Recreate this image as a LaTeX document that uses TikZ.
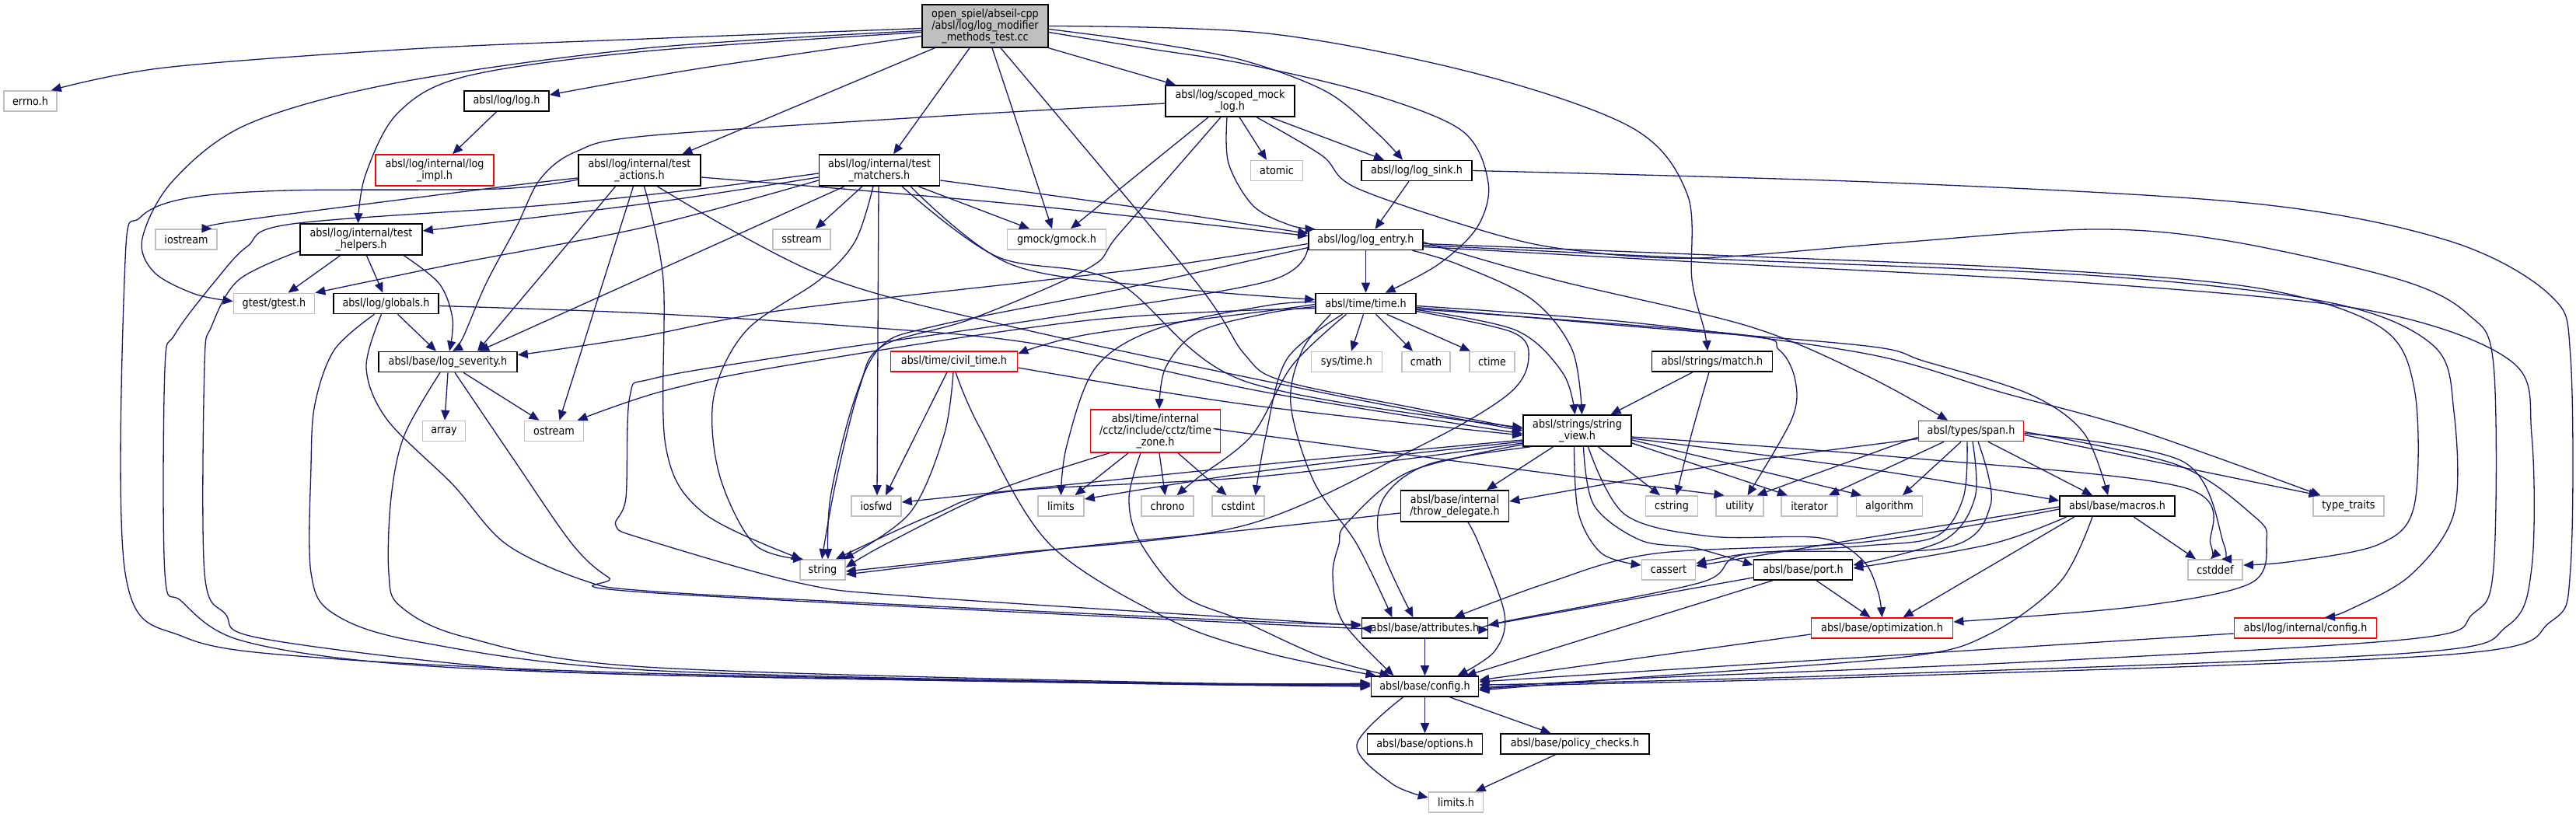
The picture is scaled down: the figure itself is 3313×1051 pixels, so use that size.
\documentclass[tikz,border=0pt]{standalone}
\usepackage{fontspec}
\setmainfont{DejaVu Sans}[FakeStretch=0.88]
\usetikzlibrary{arrows.meta}
\definecolor{edgec}{HTML}{191970}
\definecolor{grayb}{HTML}{BFBFBF}
\definecolor{mainfill}{HTML}{BFBFBF}
\definecolor{truncred}{HTML}{FF0000}
\newcommand\nodefont{\fontsize{14.5}{15}\selectfont}
\begin{document}
\begin{tikzpicture}[x=1pt,y=-1pt,
  nd/.style={draw=black, line width=1.6pt, fill=white, minimum height=26pt, inner sep=0pt, align=center, font=\nodefont},
  sysn/.style={nd, draw=grayb},
  trn/.style={nd, draw=truncred},
  dep/.style={draw=edgec, line width=1.3pt, -{Triangle[length=13pt,width=11pt]}},
  sm/.style={smooth, tension=0.55}]
\fill[white] (0,0) rectangle (3313,1051);
\useasboundingbox (0,0) rectangle (3313,1051);

% nodes
\node[nd, fill=mainfill, minimum width=162pt, minimum height=55pt] (main) at (1267,33.5) {open\_spiel/abseil-cpp\\/absl/log/log\_modifier\\\_methods\_test.cc};
\node[sysn, minimum width=68pt] (errno) at (39,130) {errno.h};
\node[nd, minimum width=109pt] (logh) at (651.5,130) {absl/log/log.h};
\node[nd, minimum width=166pt, minimum height=40pt] (smock) at (1582,130) {absl/log/scoped\_mock\\\_log.h};
\node[trn, minimum width=152pt, minimum height=40pt] (impl) at (559,219) {absl/log/internal/log\\\_impl.h};
\node[nd, minimum width=157pt, minimum height=40pt] (tact) at (822.5,219) {absl/log/internal/test\\\_actions.h};
\node[nd, minimum width=155pt, minimum height=40pt] (tmat) at (1131,219) {absl/log/internal/test\\\_matchers.h};
\node[sysn, minimum width=67pt] (atomic) at (1642,219.5) {atomic};
\node[nd, minimum width=142pt] (sink) at (1822,219.5) {absl/log/log\_sink.h};
\node[sysn, minimum width=79pt] (iostream) at (239.5,308) {iostream};
\node[nd, minimum width=157pt, minimum height=40pt] (thelp) at (464.5,308) {absl/log/internal/test\\\_helpers.h};
\node[sysn, minimum width=74pt] (sstream) at (1031,308) {sstream};
\node[sysn, minimum width=127pt] (gmock) at (1359,308) {gmock/gmock.h};
\node[nd, minimum width=147pt] (entry) at (1756.5,308.5) {absl/log/log\_entry.h};
\node[sysn, minimum width=104pt] (gtest) at (352.5,390.5) {gtest/gtest.h};
\node[nd, minimum width=135pt] (globals) at (496.5,390.5) {absl/log/globals.h};
\node[nd, minimum width=129pt] (timeh) at (1756.5,390.5) {absl/time/time.h};
\node[nd, minimum width=178pt] (sev) at (576,465.5) {absl/base/log\_severity.h};
\node[trn, minimum width=163pt] (civil) at (1227,465) {absl/time/civil\_time.h};
\node[sysn, minimum width=91pt] (systime) at (1732,465.5) {sys/time.h};
\node[sysn, minimum width=62pt] (cmath) at (1834,465.5) {cmath};
\node[sysn, minimum width=58pt] (ctime) at (1919,465.5) {ctime};
\node[nd, minimum width=155pt] (match) at (2202,465) {absl/strings/match.h};
\node[sysn, minimum width=55pt] (array) at (571,554.5) {array};
\node[sysn, minimum width=76pt] (ostream) at (712.5,554.5) {ostream};
\node[trn, minimum width=167pt, minimum height=55pt] (tz) at (1486,554.5) {absl/time/internal\\/cctz/include/cctz/time\\\_zone.h};
\node[nd, minimum width=139pt, minimum height=40pt] (sv) at (2028.5,554) {absl/strings/string\\\_view.h};
\node[trn, minimum width=135pt] (span) at (2535,554.5) {absl/types/span.h};
\node[sysn, minimum width=64pt] (iosfwd) at (1127,651) {iosfwd};
\node[sysn, minimum width=59pt] (limits) at (1364.5,651) {limits};
\node[sysn, minimum width=67pt] (chrono) at (1501.5,651) {chrono};
\node[sysn, minimum width=67pt] (cstdint) at (1592.5,651) {cstdint};
\node[nd, minimum width=139pt, minimum height=40pt] (thrw) at (1871,651) {absl/base/internal\\/throw\_delegate.h};
\node[sysn, minimum width=67pt] (cstring) at (2150,651) {cstring};
\node[sysn, minimum width=61pt] (utility) at (2237.5,651) {utility};
\node[sysn, minimum width=71.5pt] (iterator) at (2327,651) {iterator};
\node[sysn, minimum width=85pt] (algorithm) at (2430,651) {algorithm};
\node[nd, minimum width=148pt] (macros) at (2723,651) {absl/base/macros.h};
\node[sysn, minimum width=91.5pt] (ttraits) at (3020.5,651) {type\_traits};
\node[sysn, minimum width=58pt] (string) at (1058,733) {string};
\node[sysn, minimum width=69pt] (cassert) at (2146,733) {cassert};
\node[nd, minimum width=127pt] (port) at (2319,733) {absl/base/port.h};
\node[sysn, minimum width=70.5pt] (cstddef) at (2849,733) {cstddef};
\node[nd, minimum width=162pt] (attr) at (1832.5,808) {absl/base/attributes.h};
\node[trn, minimum width=182pt] (optim) at (2420.5,808) {absl/base/optimization.h};
\node[trn, minimum width=183pt] (lconfig) at (2965,808) {absl/log/internal/config.h};
\node[nd, minimum width=138pt] (config) at (1832.5,883) {absl/base/config.h};
\node[nd, minimum width=148pt] (options) at (1832.5,957) {absl/base/options.h};
\node[nd, minimum width=191pt] (policy) at (2025.5,957) {absl/base/policy\_checks.h};
\node[sysn, minimum width=70pt] (limitsh) at (1872.5,1032) {limits.h};

% main
\draw[dep] plot[sm] coordinates {([yshift=-3pt]main.west) (830,50) (529,63) (212,87) ([xshift=-8pt]errno.north east)};
\draw[dep] plot[sm] coordinates {([yshift=-6pt]main.west) (830,62) (508,107) (318,160) (222,233) (183,307) (198,350) (250,378) ([yshift=3pt]gtest.west)};
\draw[dep] plot[sm] coordinates {([yshift=-8pt]main.west) (830,66) (600,98) (512,145) (470,225) ([xshift=-4pt]thelp.north)};
\draw[dep] plot[sm] coordinates {([yshift=-13pt]main.west) (900,88) ([yshift=8pt]logh.east)};
\draw[dep] ([xshift=-65pt]main.south) -- ([xshift=55pt]tact.north);
\draw[dep] ([xshift=-20pt]main.south) -- ([xshift=18pt]tmat.north);
\draw[dep] ([xshift=9pt]main.south) -- ([xshift=-6pt]gmock.north);
\draw[dep] plot[sm] coordinates {([xshift=20pt]main.south) (1536,360) (1600,455) (1650,490) (1820,525) ([yshift=2pt]sv.west)};
\draw[dep] (main.south east) -- ([xshift=-70pt]smock.north);
\draw[dep] plot[sm] coordinates {([yshift=-4pt]main.east) (1480,55) (1600,78) (1706,118) (1770,170) ([xshift=-18pt]sink.north)};
\draw[dep] plot[sm] coordinates {([yshift=-8pt]main.east) (1480,63) (1600,82) (1760,120) (1880,168) (1914,235) (1900,292) (1850,340) ([xshift=25pt]timeh.north)};
\draw[dep] plot[sm] coordinates {(main.east) (1630,43) (1900,95) (2100,165) (2170,250) (2176,360) (2192,425) ([xshift=-6pt]match.north)};
\draw[dep] ([xshift=-13pt]logh.south) -- ([xshift=23pt]impl.north);

% scoped_mock_log
\draw[dep] plot[sm] coordinates {([yshift=-3pt]smock.west) (1200,150) (830,175) (741,195) (695,230) (665,290) (625,365) (595,435) ([xshift=6pt]sev.north)};
\draw[dep] ([xshift=-28pt]smock.south) -- ([xshift=18pt]gmock.north);
\draw[dep] plot[sm] coordinates {([xshift=-12pt]smock.south) (1440,300) (1400,345) (1250,410) (1135,445) (1105,500) (1075,620) ([xshift=-1pt]string.north)};
\draw[dep] ([xshift=12pt]smock.south) -- ([xshift=-13pt]atomic.north);
\draw[dep] ([xshift=52pt]smock.south) -- ([xshift=-42pt]sink.north);
\draw[dep] plot[sm] coordinates {([xshift=-4pt]smock.south) (1580,210) (1612,265) (1660,290) ([xshift=-65pt]entry.north)};
\draw[dep] plot[sm] coordinates {([xshift=34pt]smock.south) (1700,200) (1745,242) (1918,300) (2024,322) (2182,332) (2430,313) (2691,295) (2866,310) (3087,360) (3175,405) (3207,470) (3207,730) (3180,790) (3100,822) (2600,852) (2100,873) ([yshift=-2pt]config.east)};

% log_sink
\draw[dep] ([xshift=-10pt]sink.south) -- ([xshift=12pt]entry.north);
\draw[dep] plot[sm] coordinates {(sink.east) (2430,235) (2900,262) (3150,310) (3280,380) (3306,460) (3306,730) (3280,800) (3150,842) (2400,871) (2000,881) ([yshift=-4pt]config.east)};

% log_entry
\draw[dep] (entry.south) -- (timeh.north);
\draw[dep] plot[sm] coordinates {([xshift=60pt]entry.south) (1875,340) (1970,385) (2022,450) ([xshift=6pt]sv.north)};
\draw[dep] plot[sm] coordinates {([yshift=-3pt]entry.east) (2000,360) (2250,420) (2400,483) ([xshift=-30pt]span.north)};
\draw[dep] plot[sm] coordinates {([yshift=-5pt]entry.east) (2200,328) (2600,345) (2900,370) (3060,420) (3105,500) (3105,650) (3060,700) (2950,722) ([yshift=6pt]cstddef.east)};
\draw[dep] plot[sm] coordinates {([yshift=-7pt]entry.east) (2200,333) (2700,355) (3000,390) (3130,445) (3156,530) (3156,660) (3100,740) (3020,785) ([xshift=25pt]lconfig.north)};
\draw[dep] plot[sm] coordinates {([yshift=-9pt]entry.east) (2200,338) (2700,365) (3050,400) (3230,465) (3256,560) (3256,730) (3225,805) (3100,840) (2400,868) (2000,879) ([yshift=2pt]config.east)};
\draw[dep] plot[sm] coordinates {([yshift=-5pt]entry.west) (1515,340) (1329,362) (1000,400) (830,432) (700,452) ([yshift=9pt]sev.east)};
\draw[dep] plot[sm] coordinates {([yshift=-10pt]entry.west) (1450,370) (1200,420) (1132,447) (1097,520) (1068,640) ([xshift=7pt]string.north)};
\draw[dep] plot[sm] coordinates {([yshift=-8pt]entry.west) (1630,362) (1329,412) (1012,458) (840,487) (810,510) (805,640) (792,676) (830,694) (1028,750) (1170,767) (1630,797) ([yshift=3pt]attr.west)};

% time.h
\draw[dep] ([xshift=-3pt]timeh.south) -- ([xshift=6pt]systime.north);
\draw[dep] ([xshift=13pt]timeh.south) -- ([xshift=-17pt]cmath.north);
\draw[dep] ([xshift=27pt]timeh.south) -- ([xshift=-28pt]ctime.north);
\draw[dep] plot[sm] coordinates {([yshift=-8pt]timeh.east) (1950,425) (2010,480) ([xshift=-3pt]sv.north)};
\draw[dep] plot[sm] coordinates {([yshift=-1pt]timeh.west) (1630,400) (1400,430) ([yshift=10pt]civil.east)};
\draw[dep] plot[sm] coordinates {([yshift=-4pt]timeh.west) (1630,403) (1541,427) (1499,473) ([xshift=5pt]tz.north)};
\draw[dep] plot[sm] coordinates {([yshift=2pt]timeh.west) (1630,393) (1488,423) (1409,473) (1372,573) (limits.north)};
\draw[dep] plot[sm] coordinates {([xshift=-25pt]timeh.south) (1662,470) (1610,560) (1540,615) ([xshift=12pt]chrono.north)};
\draw[dep] plot[sm] coordinates {([xshift=-30pt]timeh.south) (1655,462) (1628,560) ([xshift=22pt]cstdint.north)};
\draw[dep] plot[sm] coordinates {([yshift=-6pt]timeh.west) (1400,412) (1012,470) (853,503) ([xshift=30pt]ostream.north)};
\draw[dep] plot[sm] coordinates {([yshift=-10pt]timeh.east) (1944,427) (1966,460) (1940,507) (1828,573) (1600,676) (1300,712) ([yshift=-2pt]string.east)};
\draw[dep] plot[sm] coordinates {([yshift=-3pt]timeh.east) (2100,415) (2400,455) (2575,505) (2749,553) ([xshift=-36pt]ttraits.north)};
\draw[dep] plot[sm] coordinates {([yshift=-5pt]timeh.east) (2100,420) (2400,445) (2476,465) (2610,507) (2680,557) ([xshift=-12pt]macros.north)};
\draw[dep] plot[sm] coordinates {([yshift=-7pt]timeh.east) (2235,430) (2288,450) (2309,490) (2304,540) ([xshift=10pt]utility.north)};
\draw[dep] plot[sm] coordinates {([xshift=-45pt]timeh.south) (1675,450) (1660,520) (1690,620) (1745,700) ([xshift=-42pt]attr.north)};

% test_matchers
\draw[dep] ([xshift=-22pt]tmat.south) -- ([xshift=18pt]sstream.north);
\draw[dep] ([xshift=50pt]tmat.south) -- ([xshift=-35pt]gmock.north);
\draw[dep] ([xshift=-1pt]tmat.south) -- ([xshift=1pt]iosfwd.north);
\draw[dep] plot[sm] coordinates {([xshift=-8pt]tmat.south) (1100,310) (1054,360) (960,425) (918,510) (925,610) (970,700) ([xshift=-25pt]string.north)};
\draw[dep] plot[sm] coordinates {([yshift=-9pt]tmat.west) (830,262) ([yshift=11pt]thelp.east)};
\draw[dep] plot[sm] coordinates {([yshift=-13pt]tmat.west) (830,292) (582,340) (gtest.north east)};
\draw[dep] ([xshift=-45pt]tmat.south) -- ([xshift=40pt]sev.north);
\draw[dep] plot[sm] coordinates {([yshift=-4pt]tmat.west) (900,243) (700,264) (376,288) (318,317) (278,360) (225,430) (212,475) (212,737) (233,773) (307,823) (500,853) (830,868) (1500,880) ([yshift=1pt]config.west)};
\draw[dep] plot[sm] coordinates {([yshift=-13pt]tmat.east) (1450,265) ([yshift=8pt]entry.west)};
\draw[dep] plot[sm] coordinates {([xshift=29pt]tmat.south) (1282,330) (1435,362) (1600,490) ([yshift=4pt]sv.west)};
\draw[dep] plot[sm] coordinates {([xshift=40pt]tmat.south) (1300,340) (1500,370) ([yshift=5pt]timeh.west)};

% test_actions
\draw[dep] plot[sm] coordinates {([yshift=-10pt]tact.west) (640,241) (300,285) ([xshift=33pt]iostream.north)};
\draw[dep] plot[sm] coordinates {([yshift=-12pt]tact.west) (640,243) (370,245) (240,255) (180,280) (161,335) (161,737) (238,820) (423,847) (830,866) (1500,879) ([yshift=2pt]config.west)};
\draw[dep] ([xshift=-8pt]tact.south) -- ([xshift=7pt]ostream.north);
\draw[dep] plot[sm] coordinates {([xshift=6pt]tact.south) (853,360) (856,573) (905,660) ([xshift=-27pt]string.north)};
\draw[dep] plot[sm] coordinates {([xshift=-31pt]tact.south) (704,345) ([xshift=38pt]sev.north)};
\draw[dep] plot[sm] coordinates {([yshift=-9pt]tact.east) (1300,262) ([yshift=5pt]entry.west)};
\draw[dep] plot[sm] coordinates {([xshift=23pt]tact.south) (1054,353) (1300,420) (1700,505) (sv.west)};

% test_helpers
\draw[dep] ([xshift=-27pt]thelp.south) -- ([xshift=18pt]gtest.north);
\draw[dep] ([xshift=7pt]thelp.south) -- ([xshift=-4pt]globals.north);
\draw[dep] plot[sm] coordinates {([xshift=55pt]thelp.south) (565,365) (582,410) ([xshift=2pt]sev.north)};
\draw[dep] plot[sm] coordinates {([yshift=-15pt]thelp.west) (307,360) (272,420) (263,470) (263,737) (290,790) (330,820) (600,855) (830,868) (1500,880) (config.west)};

% globals
\draw[dep] ([xshift=15pt]globals.south) -- ([xshift=-15pt]sev.north);
\draw[dep] plot[sm] coordinates {([yshift=-3pt]globals.east) (830,403) (1100,420) (1330,442) (1630,505) ([yshift=-4pt]sv.west)};
\draw[dep] plot[sm] coordinates {([xshift=-6pt]globals.south) (471,473) (498,540) (582,623) (651,700) (752,747) (830,760) (1100,775) (1630,800) ([yshift=5pt]attr.west)};
\draw[dep] plot[sm] coordinates {([xshift=-15pt]globals.south) (430,450) (405,520) (400,600) (400,737) (430,790) (540,826) (830,862) (1500,879) ([yshift=3pt]config.west)};

% log_severity
\draw[dep] (sev.south) -- ([xshift=1pt]array.north);
\draw[dep] ([xshift=20pt]sev.south) -- ([xshift=-19pt]ostream.north);
\draw[dep] plot[sm] coordinates {([xshift=9pt]sev.south) (660,590) (736,700) (783,743) (830,762) (1630,803) (attr.west)};
\draw[dep] plot[sm] coordinates {([xshift=-10pt]sev.south) (520,560) (503,640) (500,737) (515,780) (600,820) (830,858) (1500,878) ([yshift=4pt]config.west)};

% civil_time
\draw[dep] ([xshift=-9pt]civil.south) -- ([xshift=12pt]iosfwd.north);
\draw[dep] plot[sm] coordinates {([xshift=-1pt]civil.south) (1214,560) (1170,660) ([xshift=-3pt]string.north east)};
\draw[dep] plot[sm] coordinates {([xshift=2pt]civil.south) (1260,550) (1350,700) (1504,797) (1630,840) ([xshift=-63pt]config.north)};
\draw[dep] plot[sm] coordinates {([yshift=-8pt]civil.east) (1600,520) ([yshift=-6pt]sv.west)};

% time_zone
\draw[dep] ([xshift=-35pt]tz.south) -- ([xshift=18pt]limits.north);
\draw[dep] ([xshift=5pt]tz.south) -- ([xshift=-3pt]chrono.north);
\draw[dep] ([xshift=29pt]tz.south) -- ([xshift=-15pt]cstdint.north);
\draw[dep] plot[sm] coordinates {([xshift=-59pt]tz.south) (1276,633) (1139,700) ([yshift=3pt]string.east)};
\draw[dep] plot[sm] coordinates {([xshift=-19pt]tz.south) (1452,640) (1465,695) (1520,765) (1594,797) (1700,845) ([xshift=-45pt]config.north)};
\draw[dep] plot[sm] coordinates {([yshift=2pt]tz.east) (1600,557) (2000,610) ([xshift=-20pt]utility.north)};

% string_view
\draw[dep] plot[sm] coordinates {([yshift=-12pt]sv.west) (1630,597) ([yshift=5pt]iosfwd.east)};
\draw[dep] plot[sm] coordinates {([yshift=-14pt]sv.west) (1630,605) ([yshift=9pt]limits.east)};
\draw[dep] plot[sm] coordinates {([yshift=-16pt]sv.west) (1630,612) (1300,632) (1200,662) ([xshift=17pt]string.north)};
\draw[dep] ([xshift=27pt]sv.south) -- ([xshift=-15pt]cstring.north);
\draw[dep] ([yshift=-16pt]sv.east) -- ([xshift=-28pt]iterator.north);
\draw[dep] ([yshift=-12pt]sv.east) -- ([xshift=-36pt]algorithm.north);
\draw[dep] plot[sm] coordinates {([yshift=-8pt]sv.east) (2430,587) (2808,627) (2843,700) ([xshift=-6pt]cstddef.north)};
\draw[dep] plot[sm] coordinates {([yshift=-10pt]sv.east) (2400,603) ([yshift=7pt]macros.west)};
\draw[dep] plot[sm] coordinates {([xshift=-4pt]sv.south) (2030,660) (2060,712) ([yshift=6pt]cassert.west)};
\draw[dep] plot[sm] coordinates {([xshift=8pt]sv.south) (2050,650) (2110,695) (2180,705) ([yshift=6pt]port.west)};
\draw[dep] plot[sm] coordinates {([xshift=14pt]sv.south) (2090,662) (2200,690) (2341,692) (2395,720) (2415,760) (optim.north)};
\draw[dep] ([xshift=-31pt]sv.south) -- ([xshift=41pt]thrw.north);
\draw[dep] plot[sm] coordinates {([xshift=-60pt]sv.south) (1838,597) (1780,640) (1775,700) ([xshift=-15pt]attr.north)};
\draw[dep] plot[sm] coordinates {([yshift=-18pt]sv.west) (1812,607) (1732,673) (1722,700) (1714,740) (1727,800) ([xshift=-40pt]config.north)};

% throw_delegate
\draw[dep] plot[sm] coordinates {([yshift=-9pt]thrw.west) (1600,682) (1400,702) ([yshift=-6pt]string.east)};
\draw[dep] plot[sm] coordinates {([xshift=17pt]thrw.south) (1902,700) (1935,790) (1922,838) ([xshift=42pt]config.north)};

% match
\draw[dep] ([xshift=-25pt]match.south) -- ([xshift=43pt]sv.north);
\draw[dep] plot[sm] coordinates {([xshift=-4pt]match.south) (2175,560) ([xshift=6pt]cstring.north)};

% span
\draw[dep] ([xshift=-13pt]span.south) -- ([xshift=17pt]algorithm.north);
\draw[dep] ([xshift=-35pt]span.south) -- ([xshift=25pt]iterator.north);
\draw[dep] plot[sm] coordinates {([yshift=-8pt]span.west) (2430,575) ([xshift=22pt]utility.north)};
\draw[dep] plot[sm] coordinates {([yshift=-10pt]span.west) (2200,600) ([yshift=6pt]thrw.east)};
\draw[dep] ([xshift=22pt]span.south) -- ([xshift=-32pt]macros.north);
\draw[dep] ([yshift=-5pt]span.east) -- ([xshift=-38pt]ttraits.north);
\draw[dep] plot[sm] coordinates {([yshift=-3pt]span.east) (2808,594) (2860,700) ([xshift=8pt]cstddef.north)};
\draw[dep] plot[sm] coordinates {([yshift=-1pt]span.east) (2800,598) (2900,665) (2915,695) (2895,750) (2750,780) ([yshift=8pt]optim.east)};
\draw[dep] plot[sm] coordinates {([xshift=-5pt]span.south) (2525,640) (2490,690) (2400,702) (2250,712) ([yshift=8pt]cassert.east)};
\draw[dep] plot[sm] coordinates {([xshift=2pt]span.south) (2540,640) (2500,695) ([yshift=6pt]port.east)};
\draw[dep] plot[sm] coordinates {([xshift=9pt]span.south) (2560,650) (2500,705) (2250,712) (2185,750) (1928,801) ([yshift=-2pt]attr.east)};

% macros
\draw[dep] ([xshift=21pt]macros.south) -- ([xshift=-25pt]cstddef.north);
\draw[dep] plot[sm] coordinates {([yshift=-1pt]macros.west) (2400,692) ([yshift=5pt]cassert.east)};
\draw[dep] plot[sm] coordinates {([yshift=-4pt]macros.west) (2400,697) (2129,712) (1990,750) ([xshift=38pt]attr.north)};
\draw[dep] plot[sm] coordinates {([xshift=-32pt]macros.south) (2650,748) (2560,815) (2450,845) (2100,872) ([yshift=-5pt]config.east)};
\draw[dep] ([xshift=-55pt]macros.south) -- ([xshift=27pt]optim.north);
\draw[dep] plot[sm] coordinates {([xshift=-65pt]macros.south) (2560,700) ([yshift=2pt]port.east)};

% port, optimization, config ...
\draw[dep] ([yshift=-10pt]port.west) -- ([yshift=4pt]attr.east);
\draw[dep] ([xshift=-39pt]port.south) -- ([xshift=53pt]config.north);
\draw[dep] ([xshift=17pt]port.south) -- ([xshift=-15pt]optim.north);
\draw[dep] ([yshift=-8pt]optim.west) -- ([yshift=8pt]config.east);
\draw[dep] ([yshift=-7pt]lconfig.west) -- ([yshift=6pt]config.east);
\draw[dep] (attr.south) -- (config.north);
\draw[dep] (config.south) -- (options.north);
\draw[dep] ([xshift=32pt]config.south) -- ([xshift=-31pt]policy.north);
\draw[dep] plot[sm] coordinates {([xshift=-28pt]config.south) (1745,958) (1790,1008) ([yshift=6pt]limitsh.west)};
\draw[dep] ([xshift=-25pt]policy.south) -- ([xshift=25pt]limitsh.north);
\end{tikzpicture}
\end{document}
